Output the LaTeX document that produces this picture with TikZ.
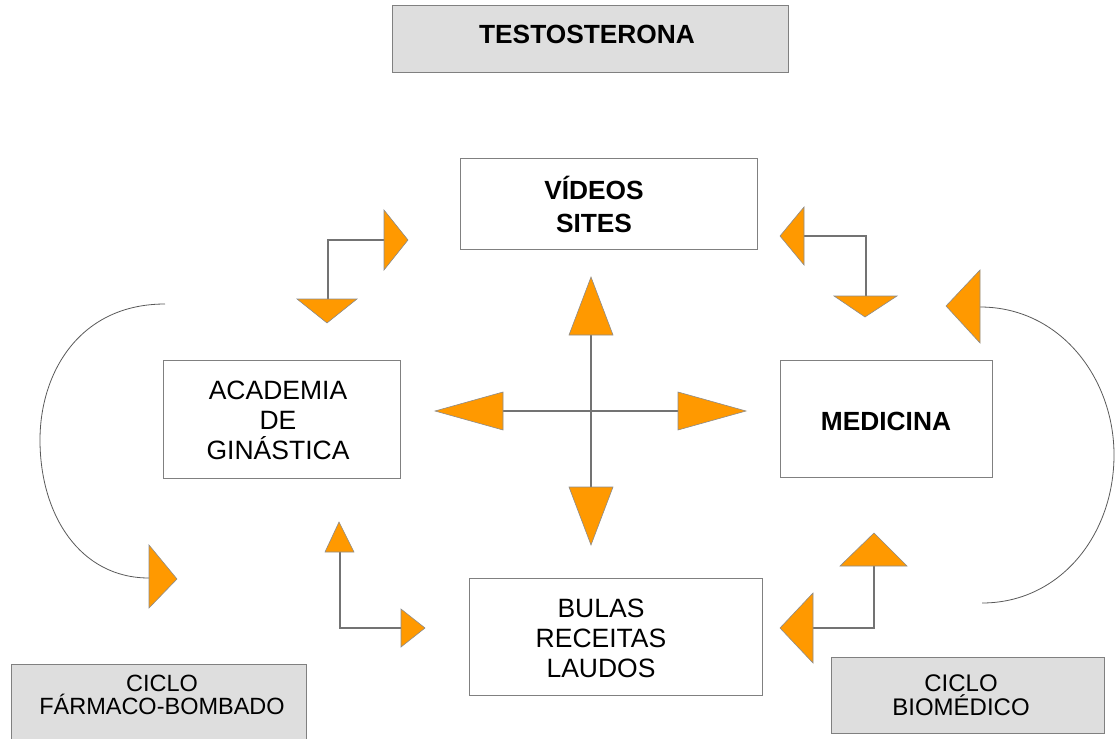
\documentclass[tikz,border=0pt]{standalone}
\usepackage{fontspec}
\setmainfont{Liberation Sans}
\begin{document}
\begin{tikzpicture}[x=1pt,y=-1pt,
  box/.style={draw=black!50,line width=0.8pt,fill=white,inner sep=0pt},
  graybox/.style={box,fill=black!13},
  txt/.style={align=center,font=\fontsize{26.5}{30}\selectfont,inner sep=0pt},
  btxt/.style={txt,font=\fontsize{26.3}{33}\selectfont\bfseries},
  stxt/.style={align=center,font=\fontsize{24}{24}\selectfont,inner sep=0pt},
  conn/.style={draw=black!55,line width=1.1pt},
  arc/.style={draw=black!65,line width=0.8pt},
  tri/.style={fill={rgb,255:red,255;green,153;blue,0},draw=black!45,line width=0.6pt,line join=miter}]
\useasboundingbox (0,0) rectangle (1115,738);
% boxes
\node[graybox,minimum width=396,minimum height=67] (testo) at (590,38.5) {};
\node[btxt] (testoT) at (587,34) {TESTOSTERONA};
\node[box,minimum width=297,minimum height=91] (videos) at (608.5,203.5) {};
\node[btxt] (videosT) at (594,204.5) {VÍDEOS\\SITES};
\node[box,minimum width=237,minimum height=118] (acad) at (281.5,419) {};
\node[txt] (acadT) at (278,420.5) {ACADEMIA\\DE\\GINÁSTICA};
\node[box,minimum width=212,minimum height=117] (med) at (886,418.5) {};
\node[btxt] (medT) at (886,421) {MEDICINA};
\node[box,minimum width=293,minimum height=117] (bulas) at (615.5,636.5) {};
\node[txt] (bulasT) at (601,638.5) {BULAS\\RECEITAS\\LAUDOS};
% bottom-left gray box, cut off at the bottom edge
\fill[black!13] (11,664) rectangle (306,740);
\draw[draw=black!50,line width=0.8pt] (11,740) -- (11,664) -- (306,664) -- (306,740);
\node[stxt,font=\fontsize{23.5}{23.5}\selectfont] (farmT) at (162,695) {CICLO\\FÁRMACO-BOMBADO};
\node[graybox,minimum width=273,minimum height=76] (bio) at (967.5,695) {};
\node[stxt] (bioT) at (961,695.5) {CICLO\\BIOMÉDICO};
% cross
\coordinate (cU) at (591,335);
\coordinate (cD) at (591,487);
\coordinate (cL) at (503,411);
\coordinate (cR) at (678,411);
\draw[conn] (cU) -- (cD);
\draw[conn] (cL) -- (cR);
\filldraw[tri] (569,335) -- (613,335) -- (591,277) -- cycle;
\filldraw[tri] (569,487) -- (613,487) -- (591,545) -- cycle;
\filldraw[tri] (503,392) -- (503,430) -- (435,411) -- cycle;
\filldraw[tri] (678,392) -- (678,430) -- (746,411) -- cycle;
% top-left elbow
\coordinate (tlA) at (384,240);
\coordinate (tlB) at (328,299);
\draw[conn] (tlA) -| (tlB);
\filldraw[tri] (384,210) -- (384,270) -- (408,240) -- cycle;
\filldraw[tri] (297,299) -- (357,299) -- (327,323) -- cycle;
% top-right elbow
\coordinate (trA) at (804,236);
\coordinate (trB) at (866,296);
\draw[conn] (trA) -| (trB);
\filldraw[tri] (804,207) -- (804,265) -- (780,236) -- cycle;
\filldraw[tri] (834,296) -- (897,296) -- (865,317) -- cycle;
% bottom-left elbow
\coordinate (blA) at (340,552);
\coordinate (blB) at (401,628);
\draw[conn] (blA) |- (blB);
\filldraw[tri] (325,552) -- (354,552) -- (339,522) -- cycle;
\filldraw[tri] (401,609) -- (401,647) -- (425,628) -- cycle;
% bottom-right elbow
\coordinate (brA) at (874,566);
\coordinate (brB) at (813,628);
\draw[conn] (brA) |- (brB);
\filldraw[tri] (840,566) -- (907,566) -- (874,533) -- cycle;
\filldraw[tri] (813,593) -- (813,663) -- (780,628) -- cycle;
% left cycle arc
\coordinate (laS) at (165,304);
\coordinate (laE) at (149,578);
\draw[arc] (laS) .. controls (80,304) and (40,372) .. (40,440) .. controls (40,515) and (80,578) .. (laE);
\filldraw[tri] (149,545) -- (149,608) -- (177,579) -- cycle;
% right cycle arc
\coordinate (raS) at (980,307);
\coordinate (raE) at (982,603);
\draw[arc] (raS) .. controls (1060,307) and (1114,378) .. (1114,455) .. controls (1114,535) and (1060,603) .. (raE);
\filldraw[tri] (980,270) -- (980,343) -- (946,306) -- cycle;
\end{tikzpicture}
\end{document}
